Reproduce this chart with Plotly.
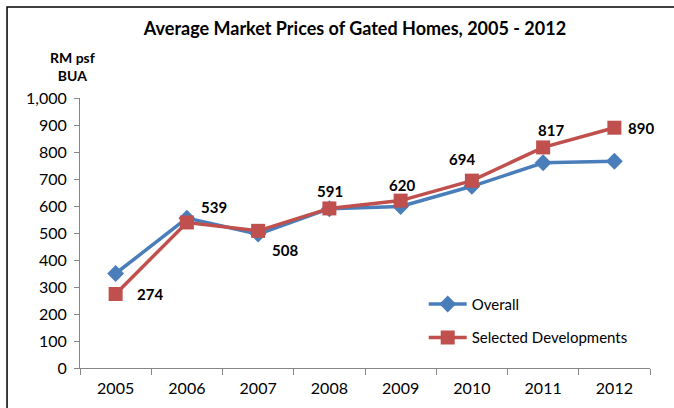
import plotly.graph_objects as go

years = ["2005", "2006", "2007", "2008", "2009", "2010", "2011", "2012"]
overall = [350, 555, 496, 590, 598, 673, 760, 766]
selected = [274, 539, 508, 591, 620, 694, 817, 890]
label_shift = [(34, 0), (27, 15), (27, -19), (1, 17), (1, 16), (-10, 22), (8, 17), (27, 0)]

blue = "#4a7ebb"
red = "#c0504d"
font = "Lato, Carlito, Calibri, sans-serif"

fig = go.Figure()
fig.add_trace(go.Scatter(x=years, y=overall, name="Overall", mode="lines+markers",
                         line=dict(color=blue, width=3.5),
                         marker=dict(symbol="diamond", size=13, color=blue),
                         legendgroup="a"))
fig.add_trace(go.Scatter(x=years, y=selected, name="Selected Developments", mode="lines+markers",
                         line=dict(color=red, width=3.5),
                         marker=dict(symbol="square", size=14, color=red),
                         legendgroup="b"))

for i, (v, (dx, dy)) in enumerate(zip(selected, label_shift)):
    fig.add_annotation(x=i, y=v, text=f"<b>{v}</b>", showarrow=False,
                       xshift=dx, yshift=dy, font=dict(size=15, color="black", family=font))

fig.add_annotation(xref="paper", yref="paper", x=-0.014, y=1.115, xanchor="center", yanchor="middle",
                   text="<b>RM psf<br>BUA</b>",
                   showarrow=False, align="center", font=dict(size=14, color="black", family=font))

fig.add_shape(type="rect", xref="paper", yref="paper", x0=-0.128, y0=-0.5, x1=1.2, y1=1.337,
              line=dict(color="black", width=1.5), fillcolor="rgba(0,0,0,0)")

fig.update_layout(
    width=674, height=408,
    margin=dict(l=80, r=24, t=98, b=40),
    paper_bgcolor="white", plot_bgcolor="white",
    font=dict(family=font, size=15, color="black"),
    title=dict(text="<b>Average Market Prices of Gated Homes, 2005 - 2012</b>",
               x=355/674, xanchor="center", y=1-29/408, yanchor="middle",
               font=dict(size=18, family=font, color="black")),
    legend=dict(x=0.603, y=0.297, xanchor="left", yanchor="top", bgcolor="rgba(0,0,0,0)",
                font=dict(size=15, family=font), tracegroupgap=11, itemwidth=38),
    showlegend=True,
    hovermode=False,
)
fig.update_xaxes(type="category", range=[-0.5, 7.5], showline=True, linecolor="#868686", linewidth=1,
                 ticks="outside", tickson="boundaries", ticklen=6, tickcolor="#868686",
                 showgrid=False, zeroline=False, tickfont=dict(size=16), tickangle=0,
                 ticklabelstandoff=6)
fig.update_yaxes(range=[0, 1000], dtick=100, tickformat=",", showline=True, linecolor="#868686",
                 linewidth=1, ticks="outside", ticklen=5, tickcolor="#868686",
                 showgrid=False, zeroline=False, tickfont=dict(size=16), ticklabelstandoff=4)

fig.write_html("out.html", config={"displayModeBar": False},
               post_script="document.body.style.margin='0px';")
